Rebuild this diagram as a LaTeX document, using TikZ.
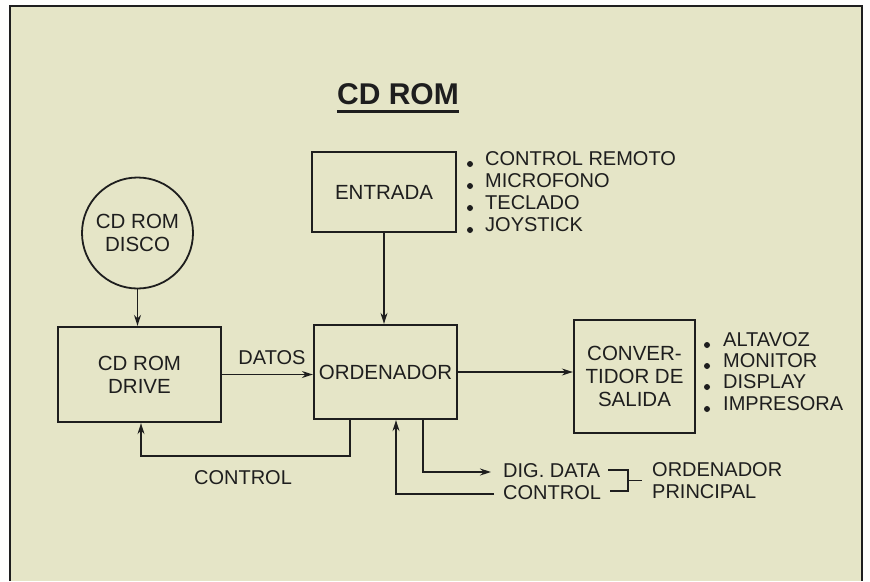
\documentclass[tikz,border=0pt]{standalone}
\usepackage{fontspec}
\setmainfont{Liberation Sans}
\usetikzlibrary{arrows.meta,calc}
\definecolor{bg}{RGB}{229,229,199}
\definecolor{ink}{RGB}{30,30,30}
\tikzset{
  boxnode/.style={draw=ink, line width=2.3pt, rectangle, inner sep=0pt, align=center, text=ink,
    font=\fontsize{20.5}{23}\selectfont},
  lbl/.style={inner sep=0pt, text=ink, font=\fontsize{20}{22}\selectfont},
  conn/.style={draw=ink, line width=1.4pt},
  arr/.style={conn, -{Stealth[length=11pt,width=7pt]}},
  bul/.style={fill=ink, circle, inner sep=0pt, minimum size=6pt},
}
\begin{document}
\begin{tikzpicture}[x=1pt,y=-1pt]
\useasboundingbox (0,0) rectangle (870,581);
\fill[white!96!bg] (0,0) rectangle (870,581);
\fill[bg] (10,6) rectangle (862,581);
\draw[ink, line width=2.5pt] (10,581) -- (10,6) -- (862,6) -- (862,581);

% title
\node[inner sep=0pt, text=ink, font=\bfseries\fontsize{30}{32}\selectfont] (title) at (398,94) {CD ROM};
\draw[ink, line width=3pt] (title.south west |- 0,111) coordinate (ul1) -- (title.south east |- ul1);

% nodes
\node[boxnode, circle, minimum size=111pt, line width=1.8pt] (disco) at (137.5,233) {CD ROM\\DISCO};
\node[boxnode, minimum width=163pt, minimum height=95pt] (drive) at (139.5,374.5) {CD ROM\\DRIVE};
\node[boxnode, minimum width=143pt, minimum height=94pt] (orden) at (385.5,372) {ORDENADOR};
\node[boxnode, minimum width=144pt, minimum height=80pt] (entrada) at (384,192) {ENTRADA};
\node[boxnode, minimum width=121pt, minimum height=113pt] (conv) at (634.5,376.5) {CONVER-\\TIDOR DE\\SALIDA};

% input list
\foreach \t/\y [count=\i] in {CONTROL REMOTO/159, MICROFONO/181, TECLADO/203, JOYSTICK/225}{
  \node[bul] (ib\i) at (470,\y+5) {};
  \node[lbl, anchor=west] (il\i) at (485,\y) {\t};
}
% output list
\foreach \t/\y [count=\i] in {ALTAVOZ/340, MONITOR/361, DISPLAY/382, IMPRESORA/404}{
  \node[bul] (ob\i) at (707,\y+5) {};
  \node[lbl, anchor=west] (ol\i) at (723,\y) {\t};
}

% connectors
\draw[arr] (disco.south) -- (disco.south |- drive.north);
\draw[arr] (entrada.south) -- (entrada.south |- orden.north);
\draw[arr] (drive.east) -- (drive.east -| orden.west);
\node[lbl] (datos) at (272,358) {DATOS};
\draw[arr] (orden.east) -- (orden.east -| conv.west);

% control back to drive
\coordinate (c1) at (350,456);
\coordinate (c2) at (141,456);
\draw[arr] (orden.south -| c1) -- (c1) -- (c2) -- (c2 |- drive.south);
\node[lbl] (ctl1) at (243,478) {CONTROL};

% dig data / control
\node[lbl, anchor=west] (dig) at (503,471) {DIG. DATA};
\node[lbl, anchor=west] (ctl2) at (503,493) {CONTROL};
\coordinate (d1) at (423,472);
\draw[arr] (orden.south -| d1) -- (d1) -- ([xshift=-12pt]dig.west |- d1);
\coordinate (e1) at (396,494);
\draw[arr] ([xshift=-9pt]ctl2.west |- e1) -- (e1) -- (e1 |- orden.south);

% bracket
\coordinate (b1) at (608,470);
\coordinate (b2) at (628,470);
\coordinate (b3) at (628,491);
\coordinate (b4) at (610,491);
\coordinate (bm) at (628,480.5);
\draw[conn] (b1) -- (b2) -- (b3) -- (b4);
\draw[conn] (bm) -- ++(14,0) coordinate (bm2);
\node[lbl, anchor=west] (op1) at (652,470) {ORDENADOR};
\node[lbl, anchor=west] (op2) at (652,492) {PRINCIPAL};
\end{tikzpicture}
\end{document}
